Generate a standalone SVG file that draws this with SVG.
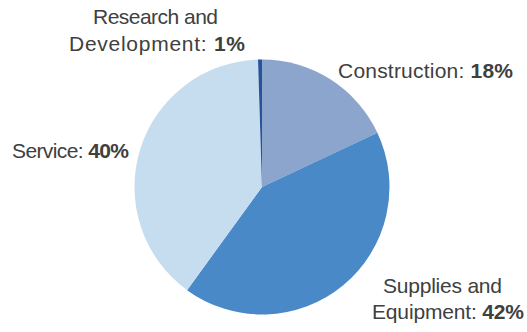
<svg xmlns="http://www.w3.org/2000/svg" width="527" height="332" viewBox="0 0 527 332">
<style>
.lbl{font-family:"Liberation Sans",Arial,sans-serif;font-size:21px;fill:#404040}
.b{font-weight:bold}
.s1{fill:#8BA5CD}
.s2{fill:#4A89C8}
.s3{fill:#C6DDF0}
.s4{fill:#26549A}
</style>
<rect width="527" height="332" fill="#FFFFFF"/>
<g id="construction">
<path class="s1" d="M262,187 L262,59.5 A127.5,127.5 0 0 1 377.36,132.71 Z"/>
<text class="lbl" x="338" y="78" textLength="175">Construction: <tspan class="b">18%</tspan></text>
</g>
<g id="supplies">
<path class="s2" d="M262,187 L377.36,132.71 A127.5,127.5 0 0 1 187.06,290.15 Z"/>
<text class="lbl" x="383" y="293" textLength="119">Supplies and</text>
<text class="lbl" x="372" y="319" textLength="152">Equipment: <tspan class="b">42%</tspan></text>
</g>
<g id="service">
<path class="s3" d="M262,187 L187.06,290.15 A127.5,127.5 0 0 1 258.0,59.56 Z"/>
<text class="lbl" x="12" y="158" textLength="117">Service: <tspan class="b">40%</tspan></text>
</g>
<g id="research">
<path class="s4" d="M262,187 L258.0,59.56 A127.5,127.5 0 0 1 262,59.5 Z"/>
<text class="lbl" x="93" y="24" textLength="125">Research and</text>
<text class="lbl" x="69" y="51" textLength="176">Development: <tspan class="b">1%</tspan></text>
</g>
<g id="connectors"></g>
</svg>
